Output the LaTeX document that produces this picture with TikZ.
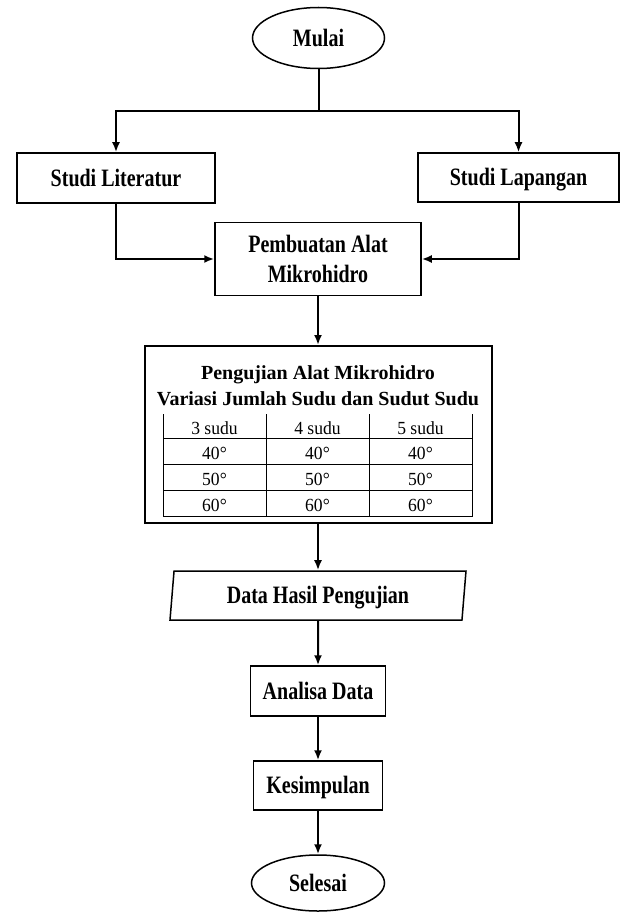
\documentclass[tikz,border=0pt]{standalone}
\usepackage{fontspec}
\setmainfont{Liberation Serif}[FakeStretch=0.8]
\newfontfamily\judulfont{Liberation Serif}
\newfontfamily\selfont{Liberation Serif}[FakeStretch=0.95]
\usetikzlibrary{arrows.meta, shapes.geometric, positioning}

\begin{document}
\begin{tikzpicture}[x=1pt, y=-1pt,
                    kotak/.style={draw, line width=1.5pt, inner sep=0pt, align=center,
                                  font=\fontsize{25}{30}\selectfont\bfseries},
                    satubaris/.style={text height=17pt, text depth=0.5pt},
                    oval/.style={ellipse, draw, line width=1.5pt, inner sep=0pt, satubaris,
                                 font=\fontsize{25}{30}\selectfont\bfseries},
                    garis/.style={line width=2pt},
                    panah/.style={line width=2pt, -{Latex[length=10pt, width=8pt]}},
                    judul/.style={anchor=base, font=\judulfont\fontsize{20}{26}\selectfont\bfseries},
                    sel/.style={anchor=base, font=\selfont\fontsize{18.5}{22}\selectfont}
                ]
                \useasboundingbox (0,0) rectangle (622,912);
                \node[oval, minimum width=132pt, minimum height=61pt] (mulai) at (318.5,38) {Mulai};
                \coordinate (cabang) at (318.5,111);
                \node[kotak, satubaris, minimum width=198pt, minimum height=50pt] (lit) at (116,178) {Studi Literatur};
                \node[kotak, satubaris, minimum width=201pt, minimum height=49pt] (lap) at (518.5,177.5) {Studi Lapangan};
                \node[kotak, minimum width=206pt, minimum height=73pt] (buat) at (318,259) {Pembuatan Alat\\Mikrohidro};
                \node[draw, line width=2pt, minimum width=347pt, minimum height=177pt] (uji) at (318,434.5) {};
                \node[judul] (judul1) at (318,379) {Pengujian Alat Mikrohidro};
                \node[judul] (judul2) at (318,405.5) {Variasi Jumlah Sudu dan Sudut Sudu};
                % tabel sudu
                \draw[line width=1pt] (163,414) -- (163,516) -- (472,516) -- (472,414);
                \foreach \x in {266,369}
                    \draw[line width=1pt] (\x,414) -- (\x,516);
                \foreach \y in {438.3,464.3,490.7}
                    \draw[line width=1pt] (163,\y) -- (472,\y);
                \foreach \j/\x in {3/214.5,4/317.5,5/420.5}{
                    \node[sel] (h\j) at (\x,434.5) {\j\ sudu};
                    \foreach \d/\y in {40/459,50/485.5,60/511.5}
                        \node[sel] (s\j\d) at (\x,\y) {\d°};
                }
                \node[kotak, satubaris, trapezium, trapezium left angle=77, trapezium right angle=103,
                      trapezium stretches body, minimum width=296pt, minimum height=49pt] (data) at (318,595.5) {Data Hasil Pengujian};
                \node[kotak, satubaris, minimum width=135pt, minimum height=50pt] (analisa) at (318,691) {Analisa Data};
                \node[kotak, satubaris, minimum width=129pt, minimum height=49pt] (simpul) at (318,785.5) {Kesimpulan};
                \node[oval, minimum width=133pt, minimum height=56pt] (selesai) at (318,883) {Selesai};

                \draw[garis] (mulai) -- (cabang);
                \draw[panah] (cabang) -| (lit.north);
                \draw[panah] (cabang) -| (lap.north);
                \draw[panah] (lit.south) |- (buat.west);
                \draw[panah] (lap.south) |- (buat.east);
                \draw[panah] (buat) -- (uji);
                \draw[panah] (uji) -- (data);
                \draw[panah] (data) -- (analisa);
                \draw[panah] (analisa) -- (simpul);
                \draw[panah] (simpul) -- (selesai);
            \end{tikzpicture}
\end{document}
